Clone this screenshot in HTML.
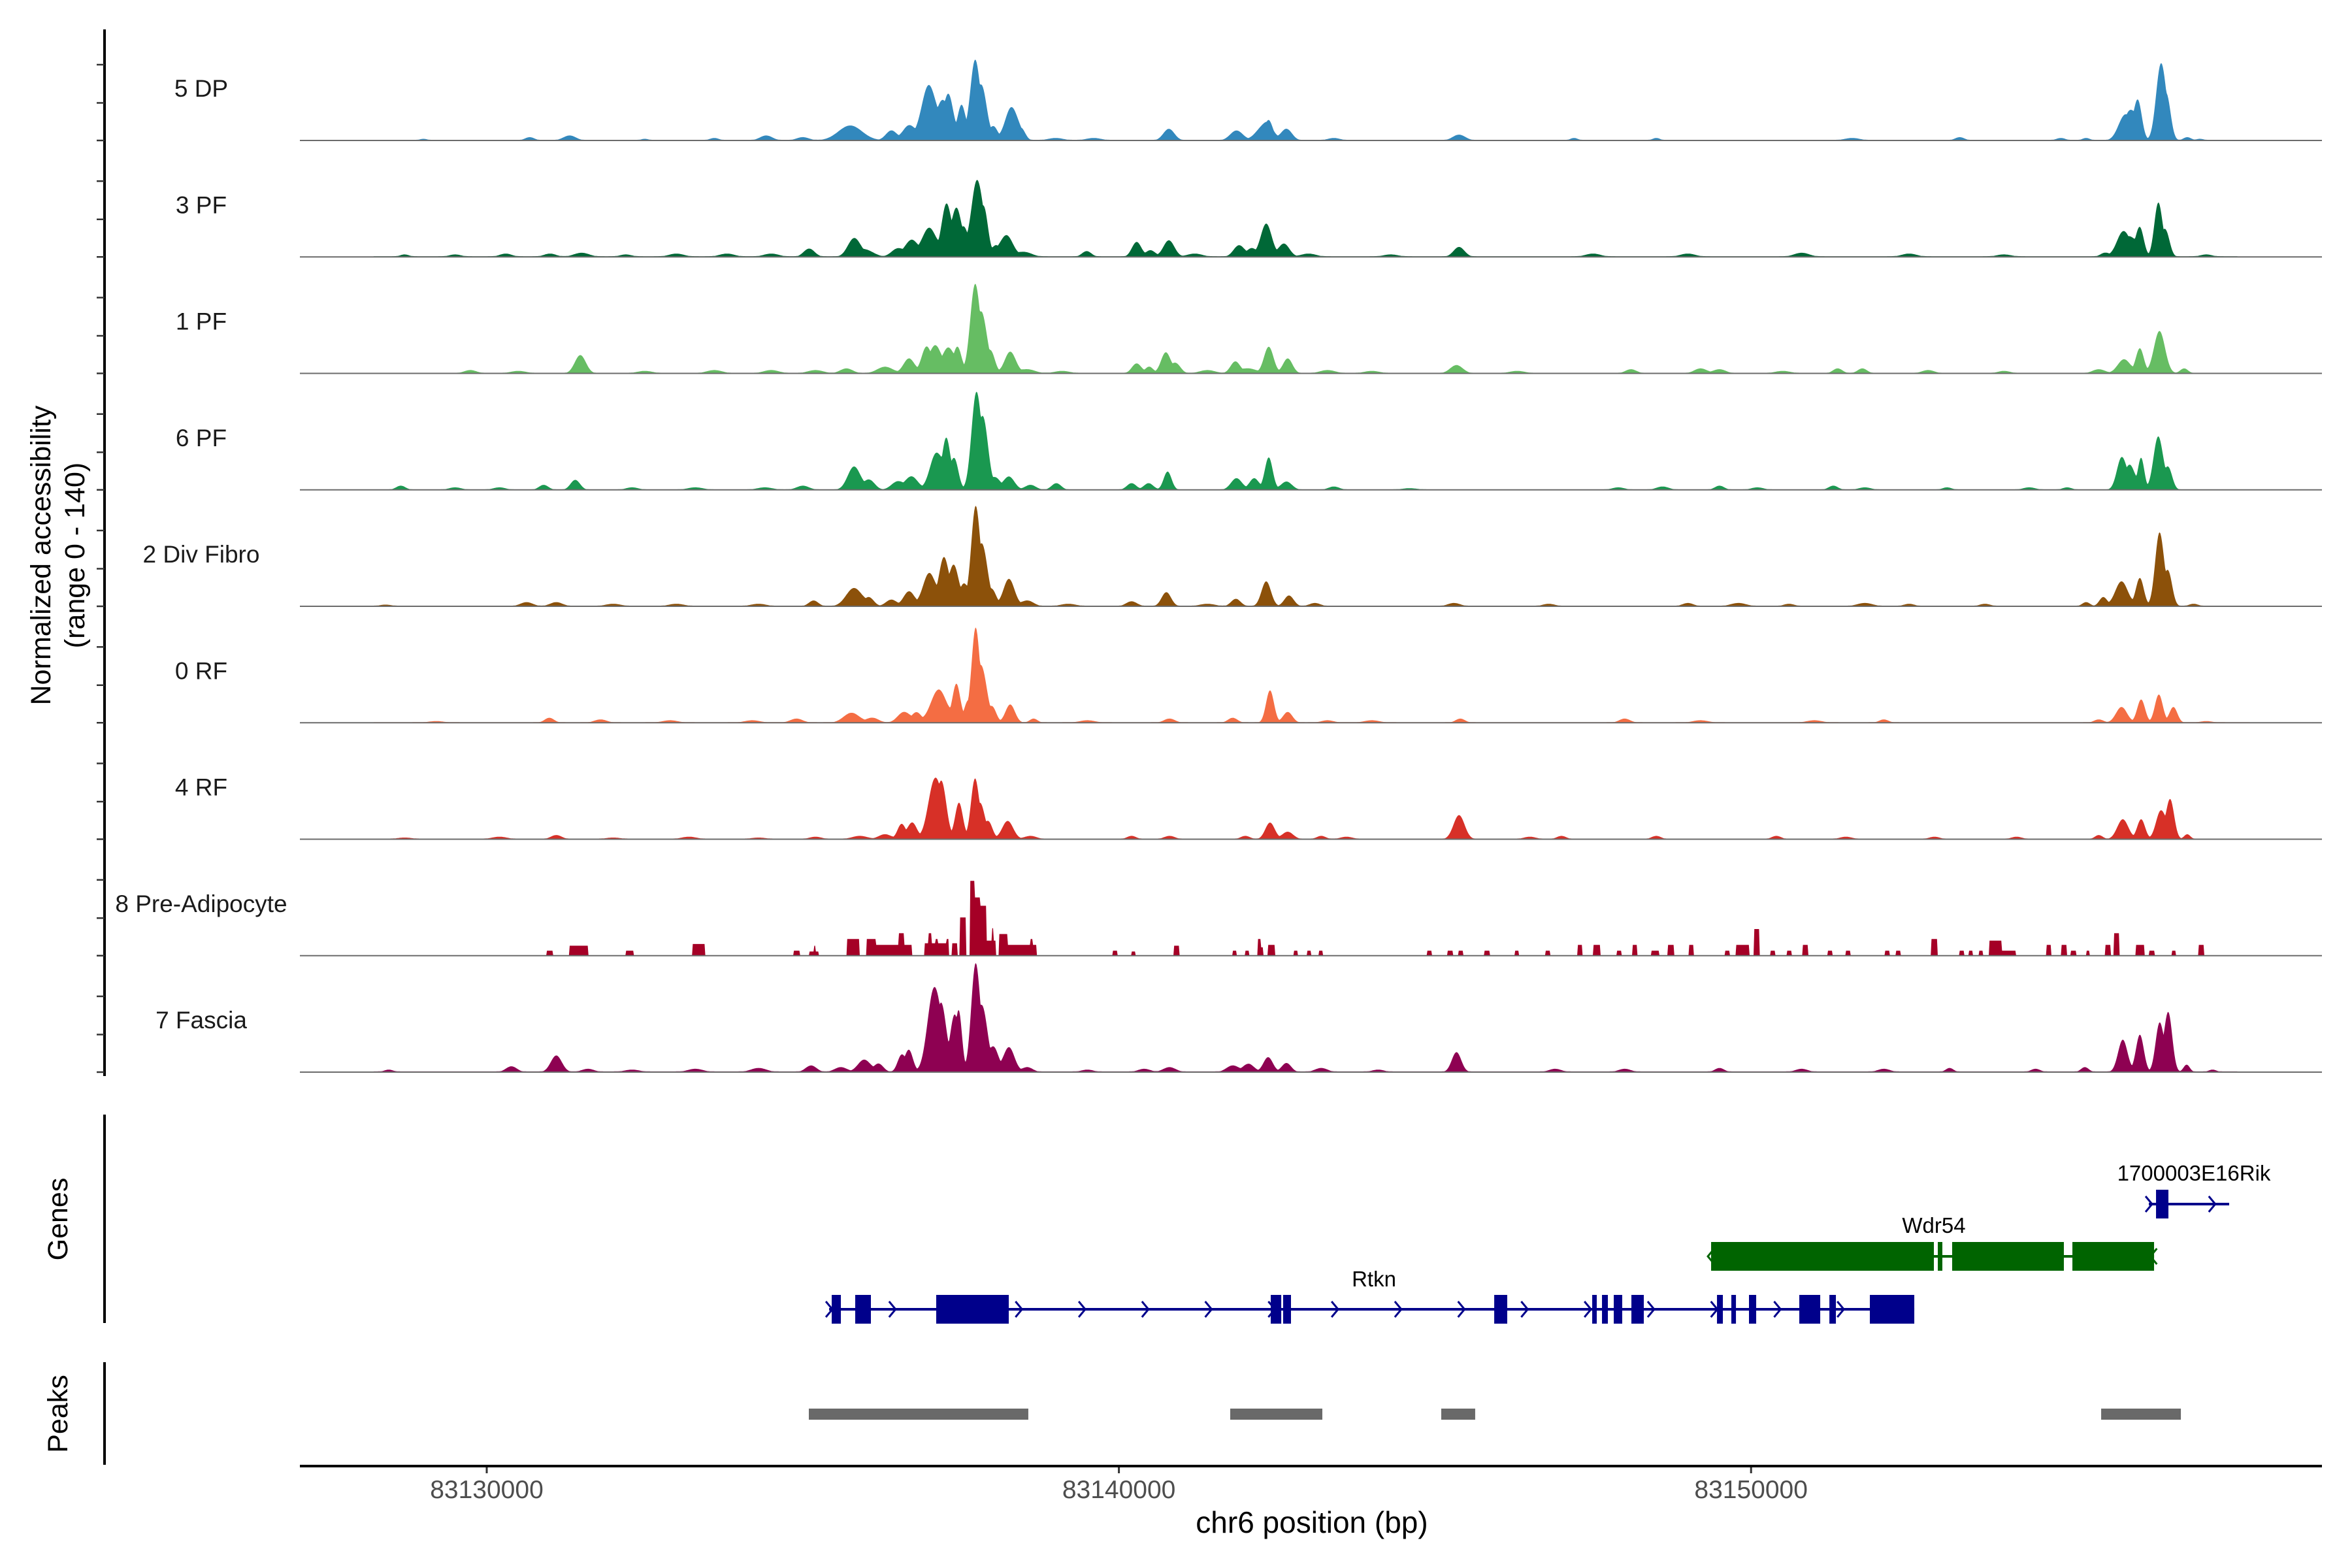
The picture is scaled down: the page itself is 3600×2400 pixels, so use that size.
<!DOCTYPE html>
<html><head><meta charset="utf-8">
<style>
html,body{margin:0;padding:0;background:#fff;}
svg{display:block;font-family:"Liberation Sans",Arial,sans-serif;}
</style></head>
<body>
<svg id="chart" width="3600" height="2400" viewBox="0 0 3600 2400" xmlns="http://www.w3.org/2000/svg">
  <rect width="3600" height="2400" fill="#fff"/>
  <g id="tracks"></g>
  <g id="genes"></g>
  <g id="peaks"></g>
  <g id="axes"></g>
  <text transform="translate(77,850) rotate(-90)" text-anchor="middle" font-size="43" fill="#000">Normalized accessibility</text>
  <text transform="translate(129,850) rotate(-90)" text-anchor="middle" font-size="43" fill="#000">(range 0 - 140)</text>
  <text transform="translate(103,1866) rotate(-90)" text-anchor="middle" font-size="43" fill="#000">Genes</text>
  <text transform="translate(103,2164) rotate(-90)" text-anchor="middle" font-size="43" fill="#000">Peaks</text>
  <text x="2008" y="2346" text-anchor="middle" font-size="46" fill="#000">chr6 position (bp)</text>
</svg>
<script>
// ---- data ----
const trackNames = ["5 DP","3 PF","1 PF","6 PF","2 Div Fibro","0 RF","4 RF","8 Pre-Adipocyte","7 Fascia"];
const trackColors = ["#3288BD","#006837","#66BD63","#1A9850","#8C510A","#F46D43","#D73027","#A50026","#8E0152"];
// bumps: [position kb from 83130000, value (0-140), width kb]
const track5DP = [[-1.0,2,0.05],[0.68,4,0.06],[1.31,6,0.08],[2.5,2,0.05],[3.6,3,0.06],[4.42,6,0.08],[5.0,4,0.08],[5.75,18,0.15],[6.4,12,0.07],[6.68,18,0.08],[6.99,66,0.09],[7.2,40,0.07],[7.31,50,0.06],[7.51,42,0.05],[7.72,92,0.06],[7.84,58,0.06],[8.02,16,0.05],[8.3,40,0.08],[8.46,12,0.05],[9.0,3,0.1],[9.6,3,0.1],[10.79,14,0.07],[11.86,12,0.08],[12.3,18,0.1],[12.37,20,0.05],[12.65,14,0.07],[13.4,3,0.08],[15.38,7,0.08],[17.2,3,0.05],[18.5,3,0.05],[21.6,3,0.1],[23.3,4,0.06],[24.9,3,0.06],[25.3,3,0.05],[25.9,26,0.08],[26.0,30,0.07],[26.12,45,0.05],[26.48,89,0.06],[26.58,45,0.05],[26.9,4,0.05],[27.1,2,0.05]];
const track3PF = [[-1.3,3,0.06],[-0.5,3,0.08],[0.3,4,0.08],[1.0,4,0.08],[1.5,5,0.1],[2.2,3,0.08],[3.0,4,0.1],[3.8,4,0.1],[4.5,4,0.1],[5.1,10,0.07],[5.81,22,0.08],[6.0,8,0.1],[6.5,10,0.08],[6.72,20,0.08],[7.0,35,0.09],[7.27,62,0.06],[7.43,56,0.06],[7.55,30,0.05],[7.75,90,0.07],[7.87,50,0.05],[8.05,12,0.05],[8.22,26,0.08],[8.5,6,0.1],[9.49,7,0.06],[10.28,18,0.06],[10.5,8,0.06],[10.79,20,0.07],[11.2,4,0.1],[11.9,14,0.07],[12.1,10,0.06],[12.33,40,0.07],[12.61,16,0.07],[13.0,4,0.1],[14.3,3,0.1],[15.38,12,0.07],[17.5,4,0.1],[19.0,4,0.1],[20.8,5,0.1],[22.5,4,0.1],[24.0,3,0.1],[25.6,5,0.06],[25.88,28,0.08],[26.0,20,0.08],[26.15,34,0.05],[26.44,64,0.05],[26.56,30,0.05],[27.2,3,0.08]];
const track1PF = [[-0.26,4,0.08],[0.5,3,0.1],[1.48,22,0.07],[2.5,3,0.1],[3.6,4,0.1],[4.5,4,0.1],[5.2,4,0.1],[5.69,6,0.08],[6.3,8,0.1],[6.68,18,0.07],[6.95,30,0.06],[7.1,32,0.07],[7.3,30,0.07],[7.45,30,0.05],[7.72,102,0.06],[7.84,64,0.06],[7.98,24,0.05],[8.28,26,0.07],[8.55,5,0.1],[9.1,3,0.1],[10.28,12,0.06],[10.48,8,0.05],[10.74,25,0.06],[10.9,12,0.06],[11.4,4,0.1],[11.84,14,0.06],[12.05,6,0.1],[12.37,32,0.06],[12.67,18,0.06],[13.3,4,0.1],[14.0,3,0.1],[15.34,10,0.08],[16.3,3,0.1],[18.1,5,0.07],[19.2,6,0.08],[19.5,5,0.08],[20.5,3,0.1],[21.37,6,0.06],[21.76,6,0.06],[22.8,4,0.08],[24.0,3,0.08],[25.5,5,0.08],[25.9,17,0.08],[26.15,30,0.05],[26.46,51,0.07],[26.85,6,0.05]];
const track6PF = [[-1.36,5,0.06],[-0.5,3,0.08],[0.2,3,0.08],[0.9,6,0.06],[1.4,12,0.06],[2.3,3,0.08],[3.3,3,0.1],[4.4,3,0.1],[5.0,5,0.08],[5.81,28,0.08],[6.05,12,0.07],[6.5,10,0.08],[6.72,16,0.08],[7.11,44,0.08],[7.27,58,0.05],[7.4,36,0.05],[7.74,111,0.06],[7.86,78,0.06],[8.05,14,0.06],[8.26,16,0.07],[8.6,6,0.07],[9.01,8,0.06],[10.2,8,0.06],[10.47,8,0.06],[10.77,22,0.05],[11.86,14,0.07],[12.14,14,0.06],[12.37,39,0.05],[12.65,10,0.07],[13.4,4,0.07],[14.6,2,0.1],[17.9,3,0.08],[18.6,4,0.08],[19.5,5,0.06],[20.1,3,0.08],[21.3,5,0.06],[21.8,3,0.08],[23.1,3,0.06],[24.4,3,0.08],[25.0,3,0.06],[25.86,38,0.06],[26.0,28,0.06],[26.17,38,0.04],[26.44,64,0.06],[26.6,26,0.05]];
const trackDivFibro = [[-1.6,2,0.08],[0.63,5,0.08],[1.1,5,0.08],[2.0,3,0.1],[3.0,3,0.1],[4.3,3,0.1],[5.17,7,0.06],[5.81,22,0.1],[6.05,10,0.06],[6.4,8,0.07],[6.68,18,0.07],[7.0,40,0.08],[7.23,57,0.06],[7.39,48,0.06],[7.55,25,0.05],[7.73,115,0.055],[7.85,66,0.06],[8.0,18,0.05],[8.26,33,0.07],[8.55,7,0.08],[9.2,3,0.1],[10.2,6,0.07],[10.75,17,0.06],[11.4,3,0.1],[11.85,9,0.06],[12.33,30,0.06],[12.69,13,0.06],[13.1,4,0.07],[15.3,4,0.08],[16.8,3,0.08],[19.0,4,0.07],[19.8,4,0.1],[20.6,3,0.07],[21.8,4,0.1],[22.5,3,0.07],[23.7,3,0.07],[25.3,5,0.05],[25.57,11,0.05],[25.86,30,0.08],[26.15,34,0.05],[26.46,88,0.055],[26.6,40,0.05],[27.0,3,0.06]];
const track0RF = [[-0.8,2,0.1],[0.99,6,0.06],[1.8,4,0.08],[2.9,3,0.1],[4.2,3,0.1],[4.9,5,0.08],[5.77,12,0.1],[6.1,6,0.08],[6.6,13,0.08],[6.8,12,0.06],[7.15,40,0.1],[7.43,46,0.05],[7.6,22,0.04],[7.73,108,0.05],[7.84,60,0.06],[8.0,18,0.05],[8.28,22,0.06],[8.65,5,0.05],[9.5,3,0.1],[10.8,5,0.07],[11.8,6,0.06],[12.39,39,0.05],[12.67,13,0.06],[13.3,3,0.08],[14.0,3,0.1],[15.4,5,0.06],[18.0,5,0.07],[19.2,3,0.1],[21.0,3,0.1],[22.1,4,0.06],[25.5,4,0.06],[25.86,19,0.07],[26.17,28,0.05],[26.45,34,0.05],[26.68,19,0.05],[27.2,2,0.08]];
const track4RF = [[-1.3,2,0.1],[0.2,3,0.1],[1.1,5,0.07],[2.0,2,0.1],[3.2,3,0.1],[4.3,2,0.1],[5.2,3,0.08],[5.9,4,0.1],[6.3,6,0.08],[6.56,18,0.05],[6.73,20,0.06],[7.08,68,0.08],[7.2,60,0.06],[7.47,44,0.05],[7.72,70,0.05],[7.82,36,0.05],[7.94,20,0.05],[8.24,22,0.07],[8.6,4,0.08],[10.2,4,0.06],[10.8,4,0.07],[12.0,4,0.06],[12.39,20,0.06],[12.67,9,0.07],[13.2,4,0.06],[13.6,3,0.08],[15.38,29,0.07],[16.5,3,0.08],[17.0,4,0.06],[18.5,4,0.06],[20.4,4,0.06],[21.5,3,0.08],[22.9,3,0.07],[24.2,3,0.07],[25.5,5,0.05],[25.88,24,0.07],[26.17,24,0.05],[26.48,34,0.06],[26.63,47,0.05],[26.9,6,0.04]];
const trackFascia = [[-1.55,3,0.06],[0.39,7,0.07],[1.1,20,0.07],[1.6,4,0.08],[2.3,3,0.1],[3.3,4,0.1],[4.3,5,0.1],[5.13,8,0.07],[5.6,6,0.08],[5.97,15,0.08],[6.2,10,0.06],[6.56,20,0.05],[6.68,26,0.05],[7.07,97,0.08],[7.2,70,0.06],[7.39,62,0.05],[7.47,66,0.04],[7.73,125,0.055],[7.85,70,0.06],[8.02,29,0.06],[8.26,30,0.07],[8.55,6,0.07],[9.5,3,0.08],[10.4,4,0.08],[10.8,6,0.08],[11.8,8,0.08],[12.05,10,0.07],[12.36,18,0.06],[12.65,11,0.06],[13.2,5,0.08],[14.1,3,0.08],[15.34,24,0.06],[16.9,4,0.08],[18.0,4,0.08],[19.5,5,0.06],[20.8,4,0.08],[22.1,4,0.08],[23.14,5,0.05],[24.5,4,0.06],[25.28,6,0.05],[25.88,39,0.06],[26.15,45,0.05],[26.46,58,0.05],[26.6,71,0.05],[26.89,9,0.04],[27.3,3,0.05]];
// Pre-adipocyte is blocky: [start kb, end kb, value]
const trackPreAdipoBlocks = [[0.95,1.05,6],[1.3,1.6,12],[2.2,2.32,6],[3.25,3.45,14],[4.85,4.95,6],[5.10,5.25,5],[5.17,5.2,12],[5.69,5.89,20],[6.0,6.15,20],[6.16,6.52,13],[6.52,6.6,27],[6.6,6.72,13],[6.92,7.31,15],[6.99,7.04,27],[7.1,7.14,20],[7.27,7.31,20],[7.36,7.45,15],[7.48,7.58,46],[7.64,7.72,90],[7.72,7.81,70],[7.81,7.9,60],[7.9,8.05,18],[7.99,8.02,33],[8.1,8.24,26],[8.24,8.7,13],[8.6,8.64,20],[9.9,9.97,6],[10.2,10.26,5],[10.87,10.95,12],[11.8,11.86,6],[12.0,12.06,6],[12.19,12.24,20],[12.24,12.28,10],[12.36,12.47,13],[12.77,12.83,6],[12.98,13.04,6],[13.16,13.22,6],[14.87,14.95,6],[15.2,15.28,6],[15.37,15.45,6],[15.78,15.86,6],[16.26,16.32,6],[16.75,16.82,6],[17.25,17.33,13],[17.5,17.62,13],[17.88,17.95,6],[18.12,18.2,13],[18.42,18.55,6],[18.68,18.78,13],[19.02,19.09,13],[19.58,19.66,6],[19.76,19.97,13],[20.05,20.13,32],[20.3,20.38,6],[20.56,20.64,6],[20.82,20.9,13],[21.21,21.29,6],[21.49,21.57,6],[22.11,22.19,6],[22.29,22.37,6],[22.85,22.95,20],[23.3,23.37,6],[23.44,23.5,6],[23.6,23.67,6],[23.76,23.97,18],[23.97,24.19,6],[24.67,24.75,13],[24.91,24.99,13],[25.06,25.14,6],[25.3,25.35,6],[25.6,25.69,13],[25.74,25.82,27],[26.08,26.22,13],[26.3,26.38,6],[26.65,26.72,6],[27.08,27.16,13]];
// low background floor per track: [start kb, end kb, value]
const trackFloors = [[-1.2,27.5,1],[-1.8,27.7,1.2],[-1.8,27.7,1],[-1.8,27.6,0.8],[-1.8,27.7,1],[-1.8,27.9,1],[-1.8,27.5,1],[0,0,0],[-1.8,27.7,1.2]];
const trackBumps = [track5DP,track3PF,track1PF,track6PF,trackDivFibro,track0RF,track4RF,[],trackFascia];

// genes (bp)
const rtknSpan = [83135416, 83152582];
const rtknExons = [[83135457,83135602],[83135829,83136077],[83137110,83138258],[83142402,83142568],[83142598,83142722],[83145937,83146143],[83147487,83147559],[83147642,83147735],[83147828,83147962],[83148107,83148303],[83149461,83149554],[83149688,83149761],[83149967,83150081],[83150763,83151094],[83151239,83151342],[83151879,83152582]];
const wdr54Span = [83149368, 83156375];
const wdr54Exons = [[83149368,83152892],[83152954,83153026],[83153181,83154948],[83155083,83156375]];
const rikSpan = [83156292, 83157563];
const rikExons = [[83156406,83156602]];
const peakRegions = [[83135095,83138567],[83141761,83143218],[83145099,83145636],[83155538,83156799]];
const xTicks = [83130000, 83140000, 83150000];
const xTickLabels = ["83130000","83140000","83150000"];

// ---- scales ----
const X0 = 745, PX_PER_BP = 0.09676, ORIGIN = 83130000;
const xs = bp => X0 + (bp - ORIGIN) * PX_PER_BP;
const xk = kb => X0 + kb * 1000 * PX_PER_BP;
const PLOT_L = 459, PLOT_R = 3554;
const TRACK_H = 178.25, BASE0 = 215, VMAX = 140;
const WIDTH_SCALE = 1.25;
const baseY = i => BASE0 + i * TRACK_H;
const ys = (i, v) => baseY(i) - Math.min(v, VMAX) / VMAX * TRACK_H;

const NS = "http://www.w3.org/2000/svg";
function mk(tag, attrs, parent) {
  const e = document.createElementNS(NS, tag);
  for (const k in attrs) e.setAttribute(k, attrs[k]);
  parent.appendChild(e);
  return e;
}

// ---- coverage tracks ----
const gT = document.getElementById("tracks");
function valueAt(i, kb) {
  let v = 0;
  const f = trackFloors[i];
  if (kb >= f[0] && kb <= f[1]) v = f[2];
  let sum = 0;
  for (const b of trackBumps[i]) {
    const d = (kb - b[0]) / (b[2] * WIDTH_SCALE);
    if (Math.abs(d) < 4) {
      const g = b[1] * Math.exp(-0.5 * d * d);
      v = Math.max(v, g);
      sum += g;
    }
  }
  v = v + 0.3 * (sum - v);
  if (i === 7) {
    for (const b of trackPreAdipoBlocks) if (kb >= b[0] && kb <= b[1]) v = Math.max(v, b[2]);
  }
  return v;
}
trackNames.forEach((name, i) => {
  const g = mk("g", {}, gT);
  
  
  const kStart = -1.9, kEnd = 28.0;
  let d = "M" + xk(kStart).toFixed(1) + " " + baseY(i);
  for (let px = xk(kStart); px <= xk(kEnd); px += 1.2) {
    const kb = (px - X0) / (1000 * PX_PER_BP);
    d += "L" + px.toFixed(1) + " " + ys(i, valueAt(i, kb)).toFixed(1);
  }
  d += "L" + xk(kEnd).toFixed(1) + " " + baseY(i) + "Z";
  const area = mk("path", {d: d, fill: trackColors[i]}, g);
  
  
  const bl = mk("line", {x1: PLOT_L, x2: PLOT_R, y1: baseY(i), y2: baseY(i), stroke: "#6b6b6b", "stroke-width": 2}, g);
  
  
  const lab = mk("text", {x: 308, y: baseY(i) - 67, "text-anchor": "middle", "font-size": 37, fill: "#1a1a1a"}, g);
  lab.textContent = name;
  
  
});

// ---- genes ----
const gG = document.getElementById("genes");
function drawGene(name, span, exons, y, color, strand, labelX, labelY) {
  const g = mk("g", {}, gG);
  
  
  const ln = mk("line", {x1: xs(span[0]), x2: xs(span[1]), y1: y, y2: y, stroke: color, "stroke-width": 4}, g);
  
  
  for (let bp = span[0]; bp <= span[1]; bp += 1000) {
    const x = xs(bp);
    const dx = strand > 0 ? 5 : -5;
    const ch = mk("path", {d: `M${x - dx} ${y - 12} L${x + dx} ${y} L${x - dx} ${y + 12}`, fill: "none", stroke: color, "stroke-width": 3}, g);
    
    
  }
  exons.forEach(ex => {
    const r = mk("rect", {x: xs(ex[0]), y: y - 22, width: Math.max(2, xs(ex[1]) - xs(ex[0])), height: 44, fill: color}, g);
    
    
  });
  const t = mk("text", {x: labelX, y: labelY, "text-anchor": "middle", "font-size": 33, fill: "#000"}, g);
  t.textContent = name;
  
  
}
drawGene("Rtkn", rtknSpan, rtknExons, 2004, "#00008B", 1, 2103, 1969);
drawGene("Wdr54", wdr54Span, wdr54Exons, 1923, "#006400", -1, 2960, 1887);
drawGene("1700003E16Rik", rikSpan, rikExons, 1843, "#00008B", 1, 3358, 1807);

// ---- peaks ----
const gP = document.getElementById("peaks");
peakRegions.forEach(p => {
  const r = mk("rect", {x: xs(p[0]), y: 2156, width: xs(p[1]) - xs(p[0]), height: 17, fill: "#696969"}, gP);
  
  
});

// ---- axes ----
const gA = document.getElementById("axes");
const ya = mk("line", {x1: 160, x2: 160, y1: 45, y2: 1647, stroke: "#000", "stroke-width": 4}, gA);


for (let i = 0; i < trackNames.length; i++) {
  [0, 57.5, 116].forEach(off => {
    const t = mk("line", {x1: 148, x2: 160, y1: baseY(i) - off, y2: baseY(i) - off, stroke: "#333", "stroke-width": 2.5}, gA);
    
    
  });
}
const ga = mk("line", {x1: 160, x2: 160, y1: 1706, y2: 2025, stroke: "#000", "stroke-width": 4}, gA);


const pa = mk("line", {x1: 160, x2: 160, y1: 2085, y2: 2242, stroke: "#000", "stroke-width": 4}, gA);


const xa = mk("line", {x1: PLOT_L, x2: PLOT_R, y1: 2244, y2: 2244, stroke: "#000", "stroke-width": 4}, gA);


xTicks.forEach((bp, k) => {
  const t = mk("line", {x1: xs(bp), x2: xs(bp), y1: 2246, y2: 2255, stroke: "#333", "stroke-width": 3}, gA);
  
  
  const l = mk("text", {x: xs(bp), y: 2293, "text-anchor": "middle", "font-size": 39, fill: "#4d4d4d"}, gA);
  l.textContent = xTickLabels[k];
  
  
});
</script>
</body></html>
